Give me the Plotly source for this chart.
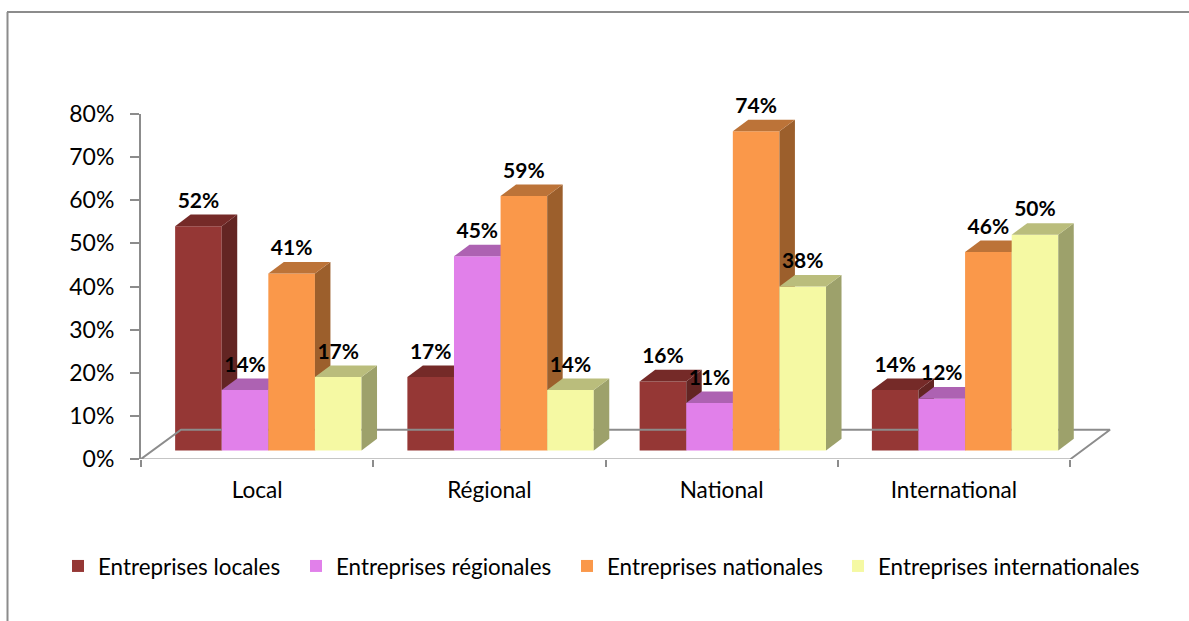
import plotly.graph_objects as go

categories = ["Local", "Régional", "National", "International"]
series_names = ["Entreprises locales", "Entreprises régionales",
                "Entreprises nationales", "Entreprises internationales"]
locales = [52, 17, 16, 14]
regionales = [14, 45, 11, 12]
nationales = [41, 59, 74, 46]
internationales = [17, 14, 38, 50]
y_ticks = [0, 10, 20, 30, 40, 50, 60, 70, 80]

all_values = [locales, regionales, nationales, internationales]
front = ["#953735", "#E180EA", "#FA984A", "#F5F9A3"]
top = ["#752A28", "#AD62B2", "#BC7338", "#BABD7C"]
side = ["#632523", "#9A57A0", "#9C5F2C", "#9DA16B"]

FONT = "Lato"
L, R, T, B = 141, 1112, 114, 458.7
W, H = 1189, 621
XU = 232.25
YU = (B - T) / 80
x_range = [-0.5, -0.5 + (R - L) / XU]
y_range = [0, 80]
BASE = 2.0
DX, DY = 15.5 / XU, 11.5 / YU
BW = 46.6 / XU
GROUP_LEFT = (175 - 257) / XU
legend_px = [58, 296, 567, 838]

fig = go.Figure()


def ax(j):
    return ("x", "y") if j == 0 else (f"x{j+1}", f"y{j+1}")


# floor outline, including the front edge of the category axis
fx = [-0.5, -0.5 + 40 / XU, 3.5 + 40 / XU, 3.5, -0.5]
fy = [0, 6.8, 6.8, -0.1, -0.1]
fig.add_trace(go.Scatter(x=fx, y=fy, mode="lines", line=dict(color="#8C8C8C", width=2),
                         showlegend=False, hoverinfo="skip", cliponaxis=False))

for j, vals in enumerate(all_values):
    xa, ya = ax(j)
    lefts = [i + GROUP_LEFT + j * BW for i in range(4)]
    centers = [l + BW / 2 for l in lefts]
    for l, v in zip(lefts, vals):
        h = v + BASE
        r = l + BW
        fig.add_trace(go.Scatter(
            x=[r, r + DX, r + DX, r, r], y=[BASE, BASE + DY, h + DY, h, BASE],
            fill="toself", fillcolor=side[j], mode="lines", line=dict(width=0),
            xaxis=xa, yaxis=ya, showlegend=False, hoverinfo="skip", cliponaxis=False))
        fig.add_trace(go.Scatter(
            x=[l, l + DX, r + DX, r, l], y=[h, h + DY, h + DY, h, h],
            fill="toself", fillcolor=top[j], mode="lines", line=dict(width=0),
            xaxis=xa, yaxis=ya, showlegend=False, hoverinfo="skip", cliponaxis=False))
    fig.add_trace(go.Bar(
        x=centers, y=vals, base=BASE, width=BW, name=series_names[j],
        marker=dict(color=front[j], line=dict(width=0)),
        xaxis=xa, yaxis=ya, showlegend=True,
        legend="legend" if j == 0 else f"legend{j+1}"))

# data labels on the top layer
for j, vals in enumerate(all_values):
    centers = [i + GROUP_LEFT + j * BW + BW / 2 for i in range(4)]
    fig.add_trace(go.Scatter(
        x=centers, y=[v + BASE + DY + 0.35 for v in vals], text=[f"{v}%" for v in vals],
        mode="text", textposition="top center",
        textfont=dict(family=FONT, size=21, color="#000000", weight="bold"),
        xaxis="x4", yaxis="y4", showlegend=False, hoverinfo="skip", cliponaxis=False))

layout = dict(
    width=W, height=H, autosize=False,
    margin=dict(l=L, r=W - R, t=T, b=H - B, pad=0),
    paper_bgcolor="#FFFFFF", plot_bgcolor="rgba(0,0,0,0)",
    barmode="overlay", hovermode=False,
    xaxis=dict(range=x_range, tickmode="array",
               tickvals=list(range(4)), ticktext=categories, ticks="",
               showline=False, showgrid=False, zeroline=False,
               tickfont=dict(family=FONT, size=22.6, color="#000000"), ticklabelstandoff=15),
    yaxis=dict(range=y_range, tickmode="array", tickvals=y_ticks,
               ticktext=[f"{v}%" for v in y_ticks], ticks="outside", ticklen=9,
               tickwidth=2, tickcolor="#8C8C8C", showline=True, linecolor="#8C8C8C", linewidth=2,
               showgrid=False, zeroline=False,
               tickfont=dict(family=FONT, size=23, color="#000000"), ticklabelstandoff=11),
)
for j in (1, 2, 3):
    layout[f"xaxis{j+1}"] = dict(range=x_range, overlaying="x", anchor=f"y{j+1}", visible=False)
    layout[f"yaxis{j+1}"] = dict(range=y_range, overlaying="y", anchor=f"x{j+1}", visible=False)
# boundary ticks on the category axis
layout["xaxis2"] = dict(range=x_range, overlaying="x", anchor="y2", visible=True,
                        tickmode="array", tickvals=[-0.5, 0.5, 1.5, 2.5, 3.5], ticks="outside",
                        ticklen=7, tickwidth=2, tickcolor="#8C8C8C", showticklabels=False,
                        showgrid=False, zeroline=False, showline=False)

for j, px in enumerate(legend_px):
    layout["legend" if j == 0 else f"legend{j+1}"] = dict(
        x=(px - L) / (R - L), xanchor="left", y=(B - 566) / (B - T), yanchor="middle",
        bgcolor="rgba(0,0,0,0)", borderwidth=0,
        font=dict(family=FONT, size=22.4, color="#000000"))

px_x = lambda p: (p - L) / (R - L)
px_y = lambda p: (B - p) / (B - T)
layout["shapes"] = [
    dict(type="line", xref="paper", yref="paper", x0=px_x(7.5), x1=px_x(7.5), y0=px_y(12), y1=px_y(621),
         line=dict(color="#8C8C8C", width=2)),
    dict(type="line", xref="paper", yref="paper", x0=px_x(7), x1=px_x(1189), y0=px_y(12), y1=px_y(12),
         line=dict(color="#8C8C8C", width=2)),
]
fig.update_layout(**layout)
fig.write_html("out.html", config={"displayModeBar": False},
               post_script="document.body.style.margin='0';document.documentElement.style.overflow='hidden';")
